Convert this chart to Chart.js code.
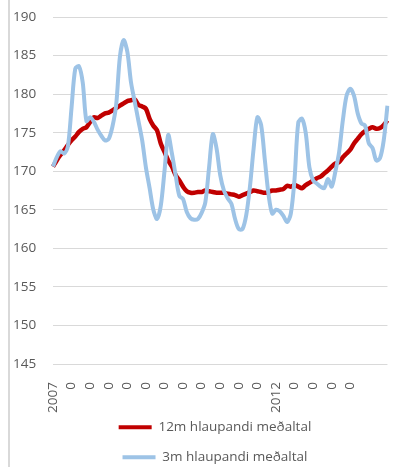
<!DOCTYPE html>
<html>
<head>
<meta charset="utf-8">
<script src="https://cdn.jsdelivr.net/npm/chart.js@4"></script>
<style>
  html, body { margin: 0; padding: 0; background: #fff; overflow: hidden; }
  #wrap { position: relative; width: 410px; height: 474px; }
  #edge { position: absolute; left: 8px; top: 0; width: 2px; height: 474px; background: #d9d9d9; }
  #chart { position: absolute; left: 0; top: 0; }
</style>
</head>
<body>
<div id="wrap"><div id="edge"></div><canvas id="chart" width="410" height="474"></canvas></div>
<script>
// one label every 5 months, Jan 2007 .. Jul 2014 (91 months)
const tickLabels = ['2007', '0', '0', '0', '0', '0', '0', '0', '0', '0', '0', '0', '2012', '0', '0', '0', '0'];
const TICK_EVERY = 5;

const avg12m = [
  170.6, 171.4, 172.1, 172.7, 173.4, 174.0, 174.5, 175.1, 175.5, 175.7,
  176.4, 177.0, 176.9, 177.2, 177.5, 177.6, 177.9, 178.2, 178.5, 178.8,
  179.1, 179.2, 179.3, 178.6, 178.4, 178.1, 176.8, 175.9, 175.3, 173.6,
  172.5, 171.4, 170.6, 169.5, 168.8, 168.0, 167.4, 167.2, 167.2, 167.3,
  167.3, 167.5, 167.4, 167.3, 167.2, 167.2, 167.2, 167.1, 167.0, 166.9,
  166.7, 166.9, 167.1, 167.3, 167.5, 167.4, 167.3, 167.2, 167.3, 167.5,
  167.5, 167.6, 167.7, 168.1, 168.0, 168.2, 168.0, 167.8, 168.2, 168.5,
  168.8, 169.1, 169.3, 169.7, 170.1, 170.6, 171.0, 171.2, 171.8, 172.3,
  172.8, 173.6, 174.2, 174.8, 175.2, 175.5, 175.7, 175.5, 175.6, 176.0,
  176.6,
];

const avg3m = [
  170.6, 171.8, 172.6, 172.3, 173.2, 178.3, 183.3, 183.6, 181.5, 176.5,
  177.0, 176.4, 175.4, 174.6, 174.0, 174.2, 175.8, 178.6, 184.8, 187.0,
  185.5, 181.5, 179.0, 176.5, 174.0, 170.5, 167.8, 165.0, 163.8, 165.5,
  170.0, 174.7, 172.3, 169.5, 166.8, 166.4, 164.7, 163.9, 163.7, 163.8,
  164.6, 166.0, 170.5, 174.8, 173.0, 169.5, 167.5, 166.5, 165.8, 163.8,
  162.5, 162.5, 164.3, 168.0, 173.0, 177.0, 176.0, 171.5, 167.0, 164.5,
  165.0, 164.8, 164.2, 163.4, 164.5, 169.0, 176.3, 176.8, 175.0, 170.5,
  168.8, 168.4, 168.0, 167.8, 169.0, 168.0, 170.0, 172.5, 176.6, 179.8,
  180.7, 179.8, 177.5, 176.2, 175.9, 173.6, 173.0, 171.4, 171.7, 174.0,
  178.5,
];

const categories = avg12m.map((_, i) => i);

const GREY = '#595959';
const FONT = { family: '"Open Sans", sans-serif', size: 13.5 };

// axes are squeezed to get the plot box right; move / unclip their labels
const unclipLabels = {
  id: 'unclipLabels',
  afterLayout(chart) {
    chart.scales.y.left = 13;
    chart.scales.x.bottom = chart.height;
  },
};

new Chart(document.getElementById('chart'), {
  type: 'line',
  data: {
    labels: categories,
    datasets: [
      {
        label: '12m hlaupandi meðaltal',
        data: avg12m,
        borderColor: '#c00000',
        backgroundColor: '#c00000',
        borderWidth: 4.5,
        pointRadius: 0,
        tension: 0.3,
        order: 1,
      },
      {
        label: '3m hlaupandi meðaltal',
        data: avg3m,
        borderColor: '#9dc3e6',
        backgroundColor: '#9dc3e6',
        borderWidth: 4,
        pointRadius: 0,
        tension: 0.3,
        order: 0,
      },
    ],
  },
  plugins: [unclipLabels],
  options: {
    responsive: false,
    animation: false,
    layout: { padding: { left: 27, right: 7, top: 17, bottom: 0 } },
    plugins: {
      tooltip: { enabled: false },
      legend: {
        position: 'bottom',
        labels: {
          color: GREY,
          font: FONT,
          boxWidth: 33,
          boxHeight: 4,
          padding: 16.5,
          sort: (a, b) => a.datasetIndex - b.datasetIndex,
          generateLabels(chart) {
            const items = Chart.defaults.plugins.legend.labels.generateLabels(chart);
            items.forEach((it) => { it.lineWidth = 0; });
            return items;
          },
        },
      },
    },
    scales: {
      x: {
        grid: { display: false },
        border: { display: false },
        offset: false,
        afterFit: (s) => { s.height = 40; },
        ticks: {
          color: GREY,
          font: FONT,
          autoSkip: false,
          minRotation: 90,
          maxRotation: 90,
          padding: 10,
          callback: (v, i) => (i % TICK_EVERY === 0 ? tickLabels[i / TICK_EVERY] : ''),
        },
      },
      y: {
        min: 145,
        max: 190,
        grid: { color: '#d9d9d9', lineWidth: 1, drawTicks: false },
        border: { display: false },
        afterFit: (s) => { s.width = 26; },
        ticks: { stepSize: 5, color: GREY, font: FONT, padding: 0, crossAlign: 'far' },
      },
    },
  },
});
</script>
</body>
</html>
